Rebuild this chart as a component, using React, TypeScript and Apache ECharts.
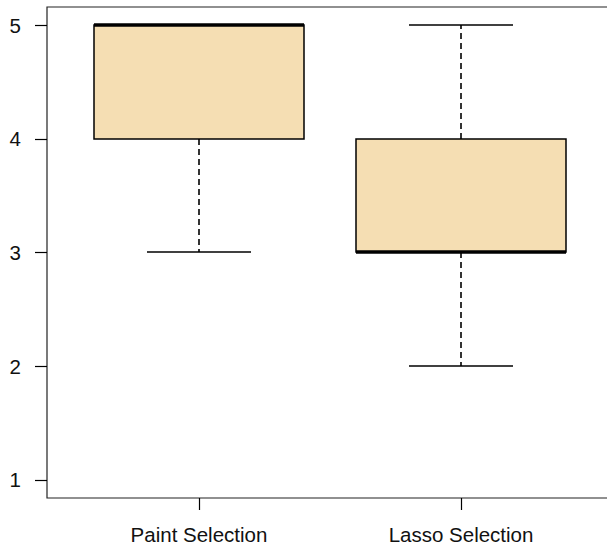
import React, { useEffect, useRef } from "react";
import * as echarts from "echarts";

// Box-and-whisker summary for the two selection techniques
const categories = ["Paint Selection", "Lasso Selection"];
const positions = [1, 2];
const whiskerLow = [3, 2];
const lowerQuartile = [4, 3];
const medians = [5, 3];
const upperQuartile = [5, 4];
const whiskerHigh = [5, 5];
const yTicks = [1, 2, 3, 4, 5];

const FONT = "'Liberation Sans', Arial, Helvetica, sans-serif";
const BOX_FILL = "#F5DEB3";
const INK = "#000";

// snap a coordinate to the pixel grid so thin strokes stay sharp
const crisp = (v: number) => Math.round(v);

export default function App() {
  const ref = useRef<HTMLDivElement>(null);

  useEffect(() => {
    if (!ref.current) return;
    const chart = echarts.init(ref.current, null, { renderer: "svg" });

    const data = positions.map((p, i) => [
      p,
      whiskerLow[i],
      lowerQuartile[i],
      medians[i],
      upperQuartile[i],
      whiskerHigh[i],
    ]);

    const renderItem = (params: any, api: any) => {
      const x = api.value(0);
      const lo = api.value(1);
      const q1 = api.value(2);
      const med = api.value(3);
      const q3 = api.value(4);
      const hi = api.value(5);
      const half = 0.4;
      const staple = 0.2;

      const xl = crisp(api.coord([x - half, q1])[0]);
      const xr = crisp(api.coord([x + half, q3])[0]);
      const xc = crisp(api.coord([x, med])[0]);
      const yq1 = crisp(api.coord([x, q1])[1]);
      const yq3 = crisp(api.coord([x, q3])[1]);
      const ymed = crisp(api.coord([x, med])[1]);
      const yLo = crisp(api.coord([x, lo])[1]);
      const yHi = crisp(api.coord([x, hi])[1]);
      const sl = crisp(api.coord([x - staple, lo])[0]);
      const sr = crisp(api.coord([x + staple, lo])[0]);

      const dashed = { stroke: INK, lineWidth: 1.6, lineDash: [6, 4], fill: null };
      const solid = { stroke: INK, lineWidth: 1.5, fill: null };

      return {
        type: "group",
        children: [
          // whiskers
          { type: "line", shape: { x1: xc, y1: yq1, x2: xc, y2: yLo }, style: dashed },
          { type: "line", shape: { x1: xc, y1: yq3, x2: xc, y2: yHi }, style: dashed },
          // staples
          { type: "line", shape: { x1: sl, y1: yLo, x2: sr, y2: yLo }, style: solid },
          { type: "line", shape: { x1: sl, y1: yHi, x2: sr, y2: yHi }, style: solid },
          // box
          {
            type: "rect",
            shape: { x: xl, y: yq3, width: xr - xl, height: yq1 - yq3 },
            style: { fill: BOX_FILL, stroke: INK, lineWidth: 1.5 },
          },
          // median
          { type: "line", shape: { x1: xl, y1: ymed, x2: xr, y2: ymed }, style: { stroke: INK, lineWidth: 3.5 } },
        ],
      };
    };

    chart.setOption({
      animation: false,
      backgroundColor: "#fff",
      grid: {
        left: 47,
        top: 7,
        bottom: 52,
        width: 566,
        outerBoundsMode: "none",
        containLabel: false,
        show: true,
        borderColor: "#222",
        borderWidth: 1.2,
        backgroundColor: "transparent",
      },
      xAxis: {
        type: "value",
        min: 0.42,
        max: 2.58,
        axisLine: { show: false },
        splitLine: { show: false },
        axisTick: {
          show: true,
          customValues: positions,
          length: 12,
          lineStyle: { color: INK, width: 1.2 },
        },
        axisLabel: {
          customValues: positions,
          formatter: (v: number) => categories[positions.indexOf(v)] ?? "",
          margin: 26,
          fontSize: 20.5,
          fontFamily: FONT,
          color: "#111",
        },
      },
      yAxis: {
        type: "value",
        min: 0.84,
        max: 5.16,
        axisLine: { show: false },
        splitLine: { show: false },
        axisTick: {
          show: true,
          customValues: yTicks,
          length: 12,
          lineStyle: { color: INK, width: 1.2 },
        },
        axisLabel: {
          customValues: yTicks,
          margin: 26,
          fontSize: 20.5,
          fontFamily: FONT,
          color: "#111",
        },
      },
      series: [
        {
          type: "custom",
          renderItem,
          data,
          encode: { x: 0, y: [1, 2, 3, 4, 5] },
          clip: false,
        },
      ],
    });

    return () => chart.dispose();
  }, []);

  return (
    <div
      ref={ref}
      style={{ position: "absolute", left: 0, top: 0, width: 607, height: 550 }}
    />
  );
}
